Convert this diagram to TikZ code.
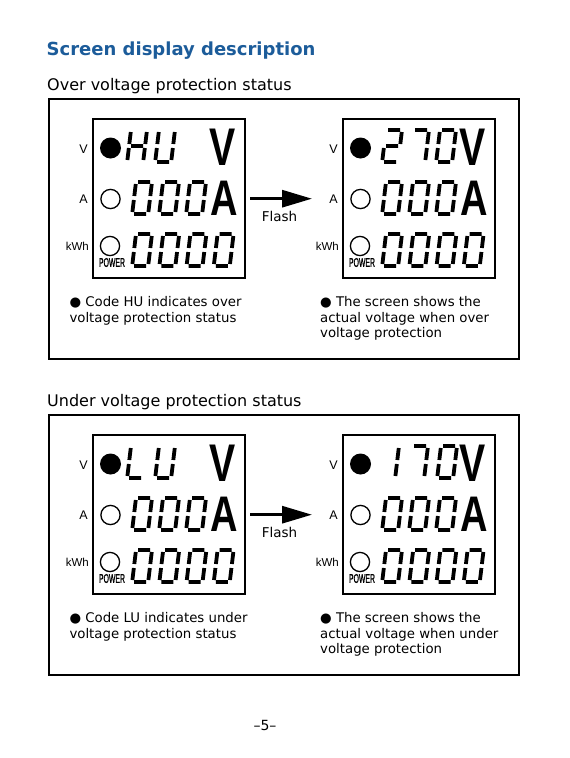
\documentclass[tikz,border=0pt]{standalone}
\usepackage{fontspec}
\setmainfont{DejaVu Sans}
\newfontfamily\arialf{Liberation Sans}
\newfontfamily\arialbig[FakeBold=1.6]{Liberation Sans}
\newfontfamily\arialbold{Liberation Sans Bold}
\usetikzlibrary{arrows.meta}
\definecolor{titleblue}{HTML}{1C5C9A}
\newcommand{\sgA}{(2,0)--(14,0)}
\newcommand{\sgB}{(16,2)--(16,14)}
\newcommand{\sgC}{(16,18)--(16,30)}
\newcommand{\sgD}{(2,32)--(14,32)}
\newcommand{\sgE}{(0,18)--(0,30)}
\newcommand{\sgF}{(0,2)--(0,14)}
\newcommand{\sgG}{(2,16)--(14,16)}
\tikzset{
  segline/.style={line width=3.8pt, xslant=0.12},
  sdzero/.pic={\draw[segline] \sgA \sgB \sgC \sgD \sgE \sgF;},
  sdone/.pic={\draw[segline] \sgB \sgC;},
  sdtwo/.pic={\draw[segline] \sgA \sgB \sgG \sgE \sgD;},
  sdseven/.pic={\draw[segline] \sgA \sgB \sgC;},
  sdH/.pic={\draw[segline] \sgB \sgC \sgE \sgF \sgG;},
  sdU/.pic={\draw[segline] \sgB \sgC \sgD \sgE \sgF;},
  sdL/.pic={\draw[segline] \sgD \sgE \sgF;},
  lcd/.style={draw, line width=2.4pt, minimum width=152pt, minimum height=159pt, inner sep=0pt, anchor=north west},
  outerbox/.style={draw, line width=2pt, minimum width=470pt, minimum height=260pt, inner sep=0pt, anchor=north west},
  ringline/.style={line width=1.3pt},
  sidelbl/.style={anchor=east, inner sep=0pt, font=\arialf\fontsize{12.5}{12.5}\selectfont},
  powlbl/.style={inner sep=0pt, font=\arialbig\fontsize{12.5}{12.5}\selectfont},
  bigch/.style={inner sep=0pt},
  titletxt/.style={anchor=base west, inner sep=0pt, text=titleblue, font=\bfseries\fontsize{18}{18}\selectfont},
  headtxt/.style={anchor=base west, inner sep=0pt, font=\fontsize{16}{16}\selectfont},
  bodytxt/.style={anchor=north west, inner sep=0pt, align=left, font=\fontsize{13.3}{15.4}\selectfont},
  flashlbl/.style={anchor=base, inner sep=0pt, font=\fontsize{13.5}{13.5}\selectfont},
  flasharrow/.style={line width=3pt, -{Triangle[length=30pt,width=17pt]}}
}
\newcommand{\bigV}{\scalebox{0.74}[1]{\arialbold\fontsize{53}{53}\selectfont V}}
\newcommand{\bigA}{\scalebox{0.76}[1]{\arialbold\fontsize{50}{50}\selectfont A}}
\newcommand{\lcdpanel}[3]{%
  \node[lcd] (#1) at (#2,#3) {};
  \begin{scope}[shift={(#2,#3)}]
    \fill (18.5,30) circle[radius=10.5];
    \draw[ringline] (18.5,81) circle[radius=9.6];
    \draw[ringline] (18,128) circle[radius=9.6];
    \node[powlbl] (#1-pw) at (20,144.5) {\scalebox{0.55}[1]{POWER}};
    \node[sidelbl] (#1-lv) at (-4,31) {V};
    \node[sidelbl] (#1-la) at (-4,81) {A};
    \node[sidelbl, font=\arialf\fontsize{11.5}{11.5}\selectfont] (#1-lk) at (-3,128.5) {kWh};
    \node[bigch] (#1-bv) at (131,29.5) {\bigV};
    \node[bigch] (#1-ba) at (132,80.5) {\bigA};
    \foreach \i in {0,1,2} \pic at (44+27*\i,64) {sdzero};
    \foreach \i in {0,1,2,3} \pic at (44+27.2*\i,116) {sdzero};
  \end{scope}}
\begin{document}
\begin{tikzpicture}[x=1pt,y=-1pt]
\fill[white] (0,0) rectangle (570,758);
\useasboundingbox (0,0) rectangle (570,758);
\node[titletxt] (title) at (46.5,55) {Screen display description};
% ---------- over voltage ----------
\node[headtxt] (h1) at (47,90) {Over voltage protection status};
\node[outerbox] (B1) at (48.3,97.7) {};
\lcdpanel{L1}{92}{118}
\lcdpanel{R1}{342}{118}
\pic at (131,130) {sdH};
\pic at (159,130) {sdU};
\pic at (386,130) {sdtwo};
\pic at (413,130) {sdseven};
\pic at (440,130) {sdzero};
\draw[flasharrow] ([xshift=4pt]L1.east) -- ([xshift=-30pt]R1.west);
\node[flashlbl] (f1) at (279.5,221) {Flash};
\node[bodytxt] (t1) at (69.3,296.6) {● Code HU indicates over\\voltage protection status};
\node[bodytxt] (t2) at (320,296.6) {● The screen shows the\\actual voltage when over\\voltage protection};
% ---------- under voltage ----------
\node[headtxt] (h2) at (47,406) {Under voltage protection status};
\node[outerbox] (B2) at (48.3,413.7) {};
\lcdpanel{L2}{92}{434}
\lcdpanel{R2}{342}{434}
\pic at (131,446) {sdL};
\pic at (159,446) {sdU};
\pic at (383,446) {sdone};
\pic at (412,446) {sdseven};
\pic at (441,446) {sdzero};
\draw[flasharrow] ([xshift=4pt]L2.east) -- ([xshift=-30pt]R2.west);
\node[flashlbl] (f2) at (279.5,537) {Flash};
\node[bodytxt] (t3) at (69.3,612.6) {● Code LU indicates under\\voltage protection status};
\node[bodytxt] (t4) at (320,612.6) {● The screen shows the\\actual voltage when under\\voltage protection};
\node[inner sep=0pt, font=\fontsize{14}{14}\selectfont] (pg) at (265,725) {–5–};
\end{tikzpicture}
\end{document}
